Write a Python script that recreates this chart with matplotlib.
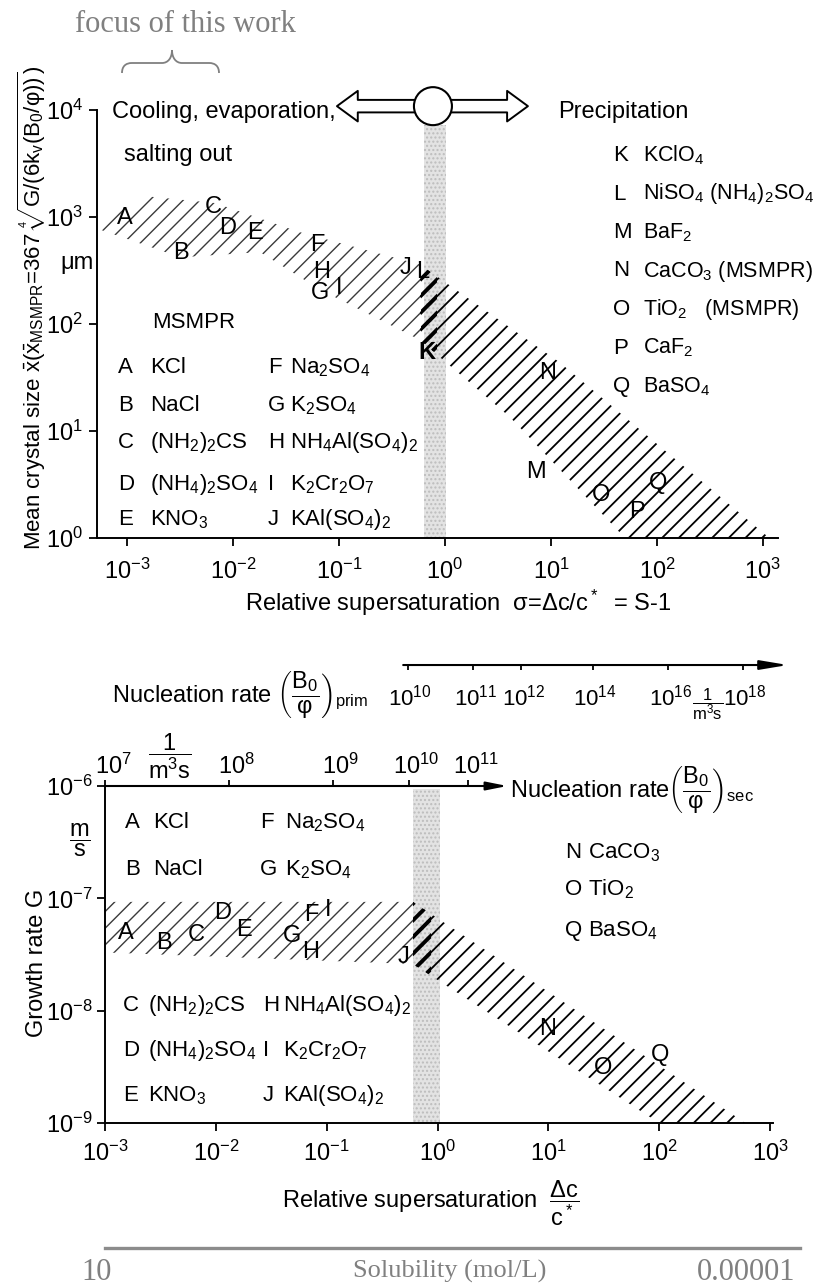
import numpy as np
import matplotlib.pyplot as plt
import matplotlib.transforms as mtransforms
from matplotlib.patches import Circle, FancyArrowPatch, PathPatch, Rectangle
from matplotlib.path import Path

plt.rcParams['font.family'] = ['Liberation Sans', 'DejaVu Sans']
plt.rcParams['mathtext.fontset'] = 'custom'
plt.rcParams['mathtext.rm'] = 'Liberation Sans'
plt.rcParams['mathtext.it'] = 'Liberation Sans'
plt.rcParams['mathtext.bf'] = 'Liberation Sans:bold'
plt.rcParams['mathtext.default'] = 'regular'

# ---------------- top panel: mean crystal size ----------------
sig_ticks = [1e-3, 1e-2, 1e-1, 1e0, 1e1, 1e2, 1e3]
sig_ticklabels = ['$10^{-3}$', '$10^{-2}$', '$10^{-1}$', '$10^{0}$', '$10^{1}$', '$10^{2}$', '$10^{3}$']
size_ticks = [1e0, 1e1, 1e2, 1e3, 1e4]
size_ticklabels = ['$10^{0}$', '$10^{1}$', '$10^{2}$', '$10^{3}$', '$10^{4}$']

# hatched band (sigma, mean size in um), upper and lower edge
band_sig_hi = [5.2e-4, 1.65e-3, 6.8e-3, 0.043, 0.58, 12, 1150]
band_size_hi = [900, 1550, 1350, 720, 360, 44, 1.0]
band_sig_lo = [5.2e-4, 3.2e-3, 0.018, 0.066, 0.58, 4.1, 50]
band_size_lo = [780, 420, 470, 210, 71, 13.5, 1.0]

top_ids = ['A', 'B', 'C', 'D', 'E', 'F', 'G', 'H', 'I', 'J', 'L', 'M', 'N', 'O', 'P', 'Q']
top_id_sig = [9.6e-4, 3.2e-3, 6.5e-3, 8.9e-3, 0.016, 0.063, 0.066, 0.069, 0.1, 0.42, 0.62,
              7.3, 9.2, 30, 65, 102]
top_id_size = [980, 460, 1240, 790, 710, 550, 195, 305, 217, 333, 307, 4.1, 35, 2.5, 1.75, 3.3]
k_sig, k_size = 0.68, 54

msmpr_a = ['A', 'B', 'C', 'D', 'E']
msmpr_a_salts = ['KCl', 'NaCl', '$(NH_2)_2CS$', '$(NH_4)_2SO_4$', '$KNO_3$']
msmpr_b = ['F', 'G', 'H', 'I', 'J']
msmpr_b_salts = ['$Na_2SO_4$', '$K_2SO_4$', '$NH_4Al(SO_4)_2$', '$K_2Cr_2O_7$', '$KAl(SO_4)_2$']
precip = ['K', 'L', 'M', 'N', 'O', 'P', 'Q']
precip_salts = ['$KClO_4$', '$NiSO_4$ $(NH_4)_2SO_4$', '$BaF_2$', '$CaCO_3$ (MSMPR)',
                '$TiO_2$   (MSMPR)', '$CaF_2$', '$BaSO_4$']

# ---------------- bottom panel: growth rate ----------------
G_ticks = [1e-9, 1e-8, 1e-7, 1e-6]
G_ticklabels = ['$10^{-9}$', '$10^{-8}$', '$10^{-7}$', '$10^{-6}$']
bandG_sig_hi = [1e-3, 0.6, 600]
bandG_hi = [9.3e-8, 9.3e-8, 1.0e-9]
bandG_sig_lo = [1e-3, 0.6, 100]
bandG_lo = [3.3e-8, 2.6e-8, 1.0e-9]

bot_ids = ['A', 'B', 'C', 'D', 'E', 'F', 'G', 'H', 'I', 'J', 'N', 'O', 'Q']
bot_id_sig = [1.55e-3, 3.4e-3, 6.6e-3, 0.0115, 0.0178, 0.072, 0.049, 0.072, 0.104, 0.49, 9.8, 31, 102]
bot_id_G = [4.9e-8, 4.0e-8, 4.7e-8, 7.4e-8, 5.2e-8, 7.1e-8, 4.6e-8, 3.3e-8, 7.9e-8, 3.0e-8,
            6.8e-9, 3.1e-9, 4.0e-9]

# nucleation rate scales (value labels placed at the matching supersaturation)
prim_labels = ['$10^{10}$', '$10^{11}$', '$10^{12}$', '$10^{14}$', '$10^{16}$', '$10^{18}$']
prim_sig = [0.537, 2.11, 5.71, 25.4, 121, 571]
sec_labels = ['$10^{7}$', '$10^{8}$', '$10^{9}$', '$10^{10}$', '$10^{11}$']
sec_sig = [1e-3, 0.0131, 0.113, 0.548, 1.90]

W, H = 817, 1288
fig = plt.figure(figsize=(W / 100, H / 100), dpi=100)
PX = mtransforms.Affine2D().scale(1 / W, -1 / H).translate(0, 1) + fig.transFigure
FS = 16


def ptext(x, y, s, **kw):
    kw.setdefault('fontsize', FS)
    kw.setdefault('va', 'center')
    return fig.text(x, y, s, transform=PX, **kw)


def row(x, yc, s, **kw):
    # yc is the middle of the capitals, text sits on its baseline
    return ptext(x, yc + 8, s, va='baseline', **kw)


def hatched(ax, xs, ys, color, lw, clip=None):
    with plt.rc_context({'hatch.linewidth': lw}):
        p = ax.fill(xs, ys, facecolor='none', edgecolor=color, hatch='//', linewidth=0, zorder=2)[0]
    if hasattr(p, 'set_hatch_linewidth'):
        p.set_hatch_linewidth(lw)
    if clip is not None:
        p.set_clip_path(clip)
    return p


def style_axes(ax):
    for side in ('top', 'right'):
        ax.spines[side].set_visible(False)
    for side in ('left', 'bottom'):
        ax.spines[side].set_linewidth(1.4)
    ax.minorticks_off()
    ax.tick_params(which='major', direction='out', length=6, width=1.3, labelsize=FS + 1)
    ax.set_facecolor('none')


# ---------- top axes ----------
ax1 = fig.add_axes([97 / W, 1 - 538 / H, 681 / W, 428 / H])
ax1.set_xscale('log')
ax1.set_yscale('log')
ax1.set_xlim(10 ** -3.283, 10 ** 3.142)
ax1.set_ylim(1, 1e4)
style_axes(ax1)
ax1.set_xticks(sig_ticks, sig_ticklabels)
ax1.set_yticks(size_ticks, size_ticklabels)
ax1.minorticks_off()
ax1.tick_params(axis='x', pad=9)
ax1.tick_params(axis='y', pad=4)

ax1.axvspan(0.63, 1.03, ymin=0, ymax=0.965, facecolor='#e3e3e3', edgecolor='#bdbdbd',
            hatch='....', linewidth=0, zorder=0)

n_split = band_sig_hi.index(0.58)
hatched(ax1, band_sig_hi[:n_split + 1] + band_sig_lo[:n_split + 1][::-1],
        band_size_hi[:n_split + 1] + band_size_lo[:n_split + 1][::-1], '#3a3a3a', 1.0)
hatched(ax1, band_sig_hi[n_split:] + band_sig_lo[n_split:][::-1],
        band_size_hi[n_split:] + band_size_lo[n_split:][::-1], 'black', 1.3)
dark1 = Rectangle((0.6, 0), 0.85 - 0.6, 1, transform=ax1.get_xaxis_transform())
hatched(ax1, band_sig_hi[n_split:] + band_sig_lo[n_split:][::-1],
        band_size_hi[n_split:] + band_size_lo[n_split:][::-1], 'black', 2.8, clip=dark1)

for lab, s, v in zip(top_ids, top_id_sig, top_id_size):
    ax1.text(s, v, lab, fontsize=FS + 1, ha='center', va='center', zorder=3)
ax1.text(k_sig, k_size, 'K', fontsize=FS + 1, fontweight='bold', ha='center', va='center', zorder=3)

# ---------- bottom axes ----------
ax2 = fig.add_axes([105 / W, 1 - 1123 / H, 668 / W, 337 / H])
ax2.set_xscale('log')
ax2.set_yscale('log')
ax2.set_xlim(1e-3, 10 ** 3.027)
ax2.set_ylim(1e-9, 1e-6)
style_axes(ax2)
ax2.set_xticks(sig_ticks, sig_ticklabels)
ax2.set_yticks(G_ticks, G_ticklabels)
ax2.minorticks_off()
ax2.tick_params(axis='x', pad=7)
ax2.tick_params(axis='y', pad=3)

ax2.axvspan(0.6, 1.05, ymin=0, ymax=0.99, facecolor='#e3e3e3', edgecolor='#bdbdbd',
            hatch='....', linewidth=0, zorder=0)

m_split = bandG_sig_hi.index(0.6)
hatched(ax2, bandG_sig_hi[:m_split + 1] + bandG_sig_lo[:m_split + 1][::-1],
        bandG_hi[:m_split + 1] + bandG_lo[:m_split + 1][::-1], '#3a3a3a', 1.0)
hatched(ax2, bandG_sig_hi[m_split:] + bandG_sig_lo[m_split:][::-1],
        bandG_hi[m_split:] + bandG_lo[m_split:][::-1], 'black', 1.3)
dark2 = Rectangle((0.6, 0), 0.88 - 0.6, 1, transform=ax2.get_xaxis_transform())
hatched(ax2, bandG_sig_hi[m_split:] + bandG_sig_lo[m_split:][::-1],
        bandG_hi[m_split:] + bandG_lo[m_split:][::-1], 'black', 2.8, clip=dark2)

for lab, s, v in zip(bot_ids, bot_id_sig, bot_id_G):
    ax2.text(s, v, lab, fontsize=FS + 1, ha='center', va='center', zorder=3)

# secondary nucleation scale along the 1e-6 line
xt2 = ax2.get_xaxis_transform()
ax2.annotate('', xy=(4.27, 1.0), xytext=(1e-3, 1.0), xycoords=xt2, textcoords=xt2,
             annotation_clip=False,
             arrowprops=dict(arrowstyle='-|>,head_length=0.9,head_width=0.18', lw=1.5,
                             color='black', shrinkA=0, shrinkB=0, mutation_scale=14))
ax2.vlines(sec_sig, 1.0, 1.018, transform=xt2, color='black', lw=1.3, clip_on=False)
for lab, s in zip(sec_labels, sec_sig):
    ax2.annotate(lab, xy=(s, 1.058), xycoords=xt2, xytext=(8, 0), textcoords='offset pixels',
                 ha='center', va='center', fontsize=FS + 1, annotation_clip=False)

# primary nucleation scale above the panel
y_prim = 1.359
ax2.annotate('', xy=(1450, y_prim), xytext=(0.49, y_prim), xycoords=xt2, textcoords=xt2,
             annotation_clip=False,
             arrowprops=dict(arrowstyle='-|>,head_length=1.2,head_width=0.2', lw=1.5,
                             color='black', shrinkA=0, shrinkB=0, mutation_scale=14))
ax2.vlines(prim_sig, y_prim - 0.016, y_prim, transform=xt2, color='black', lw=1.3, clip_on=False)
for lab, s in zip(prim_labels, prim_sig):
    ax2.annotate(lab, xy=(s, 1.262), xycoords=xt2, xytext=(2, 0), textcoords='offset pixels',
                 ha='center', va='center', fontsize=FS, annotation_clip=False)

# ---------- circle with double arrow above the top panel ----------
cx, cy = ax1.get_xaxis_transform().transform((0.77, 1.009))
ident = mtransforms.IdentityTransform()
arrow_style = 'simple,head_length=0.75,head_width=1.1,tail_width=0.45'
for tip in (cx - 96, cx + 95):
    start = cx - 18 if tip < cx else cx + 18
    fig.add_artist(FancyArrowPatch((start, cy), (tip, cy), arrowstyle=arrow_style,
                                   mutation_scale=20, fc='white', ec='black', lw=1.4,
                                   shrinkA=0, shrinkB=0, transform=ident))
fig.add_artist(Circle((cx, cy), 19, fc='white', ec='black', lw=1.5, transform=ident))

# ---------- texts of the top panel ----------
ptext(112, 112, 'Cooling, evaporation,', fontsize=FS + 1)
ptext(124, 155, 'salting out', fontsize=FS + 1)
ptext(558, 112, 'Precipitation', fontsize=FS + 1)
ptext(77, 263, 'μm', ha='center', fontsize=FS + 1)
ptext(152, 322, 'MSMPR')
rows_top = [365, 403, 440, 482, 517]
for lab, salt, lab2, salt2, yc in zip(msmpr_a, msmpr_a_salts, msmpr_b, msmpr_b_salts, rows_top):
    row(118, yc, lab)
    row(150, yc, salt)
    row(268, yc, lab2)
    row(290, yc, salt2)
for i, (lab, salt) in enumerate(zip(precip, precip_salts)):
    row(613, 153 + 38.5 * i, lab)
    row(643, 153 + 38.5 * i, salt, fontsize=15.5)

ptext(32, 308, r'Mean crystal size $\bar{x}(\bar{x}_{MSMPR}$=367 $\sqrt[4]{G/(6k_v(B_0/φ))}$)',
      rotation=90, ha='center', fontsize=16)
ptext(458, 603, r'Relative supersaturation  σ=Δc/c$^*$  = S-1', ha='center', fontsize=FS + 1)

# ---------- texts of the bottom panel ----------
ptext(112, 695, r'Nucleation rate $\left(\dfrac{B_0}{φ}\right)_{prim}$', fontsize=FS + 1)
ptext(707.5, 704, r'$\dfrac{1}{m^3s}$', ha='center', fontsize=12)
ptext(170, 756, r'$\dfrac{1}{m^3s}$', ha='center', fontsize=FS + 1)
ptext(510, 790, r'Nucleation rate$\left(\dfrac{B_0}{φ}\right)_{sec}$', fontsize=FS + 1)
ptext(80, 840, r'$\dfrac{m}{s}$', ha='center', fontsize=FS + 1)
ptext(37, 963, 'Growth rate G', rotation=90, ha='center', fontsize=FS + 1)

row(125, 820, 'A'); row(153, 820, 'KCl')
row(260, 820, 'F'); row(285, 820, '$Na_2SO_4$')
row(125, 867, 'B'); row(153, 867, 'NaCl')
row(260, 867, 'G'); row(285, 867, '$K_2SO_4$')
rows_bot = [1003, 1048, 1093]
for lab, salt, lab2, salt2, yc in zip(msmpr_a[2:], msmpr_a_salts[2:], msmpr_b[2:], msmpr_b_salts[2:], rows_bot):
    row(123, yc, lab)
    row(148, yc, salt)
    row(263, yc, lab2)
    row(283, yc, salt2)
for lab, salt, yc in zip(['N', 'O', 'Q'], ['$CaCO_3$', '$TiO_2$', '$BaSO_4$'], [850, 887, 928]):
    row(565, yc, lab)
    row(588, yc, salt)

ptext(282, 1203, r'Relative supersaturation  $\dfrac{Δc}{c^*}$', ha='left', fontsize=FS + 1)

# ---------- annotation layer ----------
grey = '#808080'
ptext(185, 24, 'focus of this work', ha='center', family='Liberation Serif', fontsize=22, color=grey)
brace = Path([(122, 73), (122, 66), (126, 63), (132, 63), (162, 63),
              (168, 63), (172, 58), (172, 50), (172, 58), (176, 63), (182, 63),
              (209, 63), (215, 63), (219, 66), (219, 73)],
             [Path.MOVETO, Path.CURVE4, Path.CURVE4, Path.CURVE4, Path.LINETO,
              Path.CURVE4, Path.CURVE4, Path.CURVE4, Path.CURVE4, Path.CURVE4, Path.CURVE4,
              Path.LINETO, Path.CURVE4, Path.CURVE4, Path.CURVE4])
fig.add_artist(PathPatch(brace, transform=PX, fc='none', ec=grey, lw=1.3))

fig.add_artist(plt.Line2D([105 / W, 800 / W], [1 - 1248 / H, 1 - 1248 / H], color='#8c8c8c', lw=2.4))
ptext(97, 1273, '10', ha='center', family='Liberation Serif', fontsize=22, color=grey)
ptext(450, 1271, 'Solubility (mol/L)', ha='center', family='Liberation Serif', fontsize=19, color=grey)
ptext(795, 1273, '0.00001', ha='right', family='Liberation Serif', fontsize=22, color=grey)

fig.savefig('out.png', dpi=100)
